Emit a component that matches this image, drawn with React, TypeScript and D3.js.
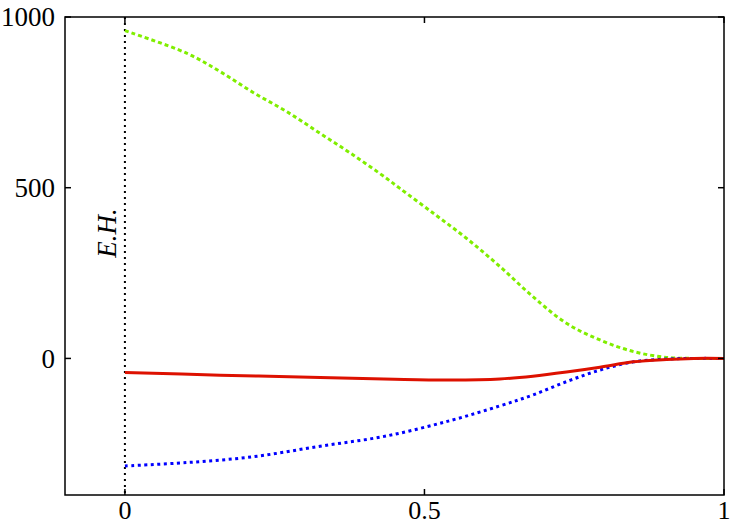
import React from "react";
import * as d3 from "d3";

const xTicks = [0, 0.5, 1];
const xTickLabels = ["0", "0.5", "1"];
const yTicks = [0, 500, 1000];
const yTickLabels = ["0", "500", "1000"];

const greenX = [0, 0.103, 0.159, 0.214, 0.27, 0.326, 0.381, 0.437, 0.459, 0.515, 0.57, 0.626, 0.681, 0.737, 0.793, 0.849, 0.904, 0.95, 1];
const greenY = [960, 894, 840, 779, 723, 659, 596, 527, 498, 425, 352, 269, 181, 103, 54, 20, 3, 0, 0];

const redX = [0, 0.159, 0.326, 0.45, 0.543, 0.626, 0.681, 0.737, 0.793, 0.849, 0.904, 0.95, 1];
const redY = [-41, -49, -56, -61, -63, -60, -52, -40, -26, -10, -3, 0, 0];

const blueX = [0, 0.103, 0.214, 0.326, 0.437, 0.543, 0.626, 0.681, 0.737, 0.793, 0.849, 0.904, 0.95, 1];
const blueY = [-315, -305, -288, -257, -227, -182, -139, -107, -68, -34, -10, -2, 0, 0];

const ehX = 0;
const ehLabel = "E.H.";

export default function App() {
  const W = 750, H = 525;
  const left = 65, right = 724, top = 17, bottom = 495;
  const x = d3.scaleLinear().domain([-0.1, 1]).range([left, right]);
  const y = d3.scaleLinear().domain([-400, 1000]).range([bottom, top]);
  const line = d3
    .line<[number, number]>()
    .x((d) => x(d[0]))
    .y((d) => y(d[1]))
    .curve(d3.curveCatmullRom.alpha(0.5));
  const zip = (a: number[], b: number[]) => a.map((v, i) => [v, b[i]] as [number, number]);
  const font = "Liberation Serif, Times New Roman, Times, serif";
  const tl = 6;
  return (
    <svg width={W} height={H} style={{ position: "absolute", left: 0, top: 0, background: "#fff" }}>
      <rect x={0} y={0} width={W} height={H} fill="#fff" />
      <line x1={x(ehX)} x2={x(ehX)} y1={top} y2={bottom} stroke="#000" strokeWidth={2} strokeDasharray="2,4" />
      <text
        transform={`translate(${x(ehX) - 9},233) rotate(-90)`}
        textAnchor="middle"
        fontFamily={font}
        fontStyle="italic"
        fontSize={27}
        fill="#000"
      >
        {ehLabel}
      </text>
      <path d={line(zip(greenX, greenY)) || ""} fill="none" stroke="#80ee00" strokeWidth={3} strokeDasharray="4,3" />
      <path d={line(zip(blueX, blueY)) || ""} fill="none" stroke="#0000ff" strokeWidth={3} strokeDasharray="3,3.5" />
      <path d={line(zip(redX, redY)) || ""} fill="none" stroke="#dd1100" strokeWidth={3} />
      <rect x={left} y={top} width={right - left} height={bottom - top} fill="none" stroke="#000" strokeWidth={1.5} />
      {yTicks.map((t, i) => (
        <g key={"y" + t}>
          <line x1={left} x2={left + tl} y1={y(t)} y2={y(t)} stroke="#000" strokeWidth={1.5} />
          <line x1={right} x2={right - tl} y1={y(t)} y2={y(t)} stroke="#000" strokeWidth={1.5} />
          <text x={left - 10} y={y(t)} dy="0.35em" textAnchor="end" fontFamily={font} fontSize={27} fill="#000">
            {yTickLabels[i]}
          </text>
        </g>
      ))}
      {xTicks.map((t, i) => (
        <g key={"x" + t}>
          <line x1={x(t)} x2={x(t)} y1={bottom} y2={bottom - tl} stroke="#000" strokeWidth={1.5} />
          <line x1={x(t)} x2={x(t)} y1={top} y2={top + tl} stroke="#000" strokeWidth={1.5} />
          <text x={x(t)} y={519} textAnchor="middle" fontFamily={font} fontSize={26} fill="#000">
            {xTickLabels[i]}
          </text>
        </g>
      ))}
    </svg>
  );
}
